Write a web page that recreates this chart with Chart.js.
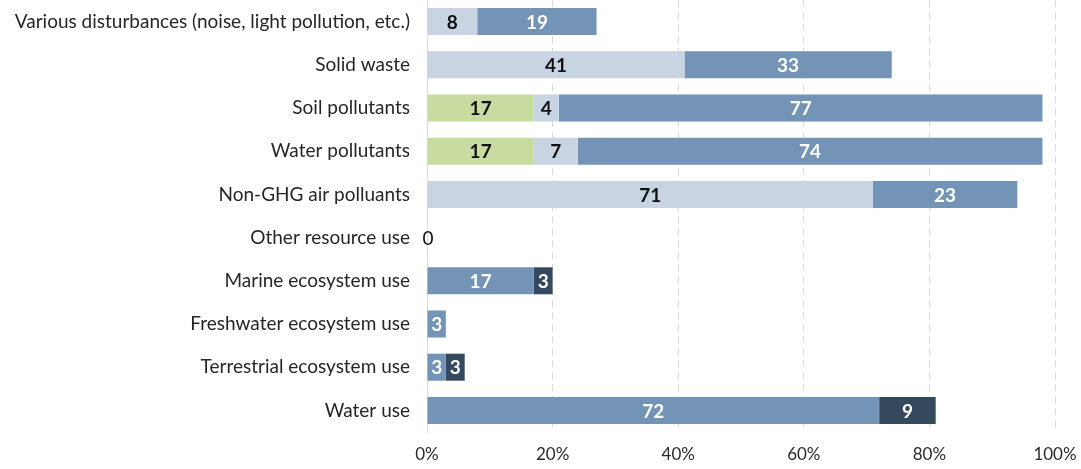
<!DOCTYPE html>
<html>
<head>
<meta charset="utf-8">
<script src="https://cdn.jsdelivr.net/npm/chart.js@4"></script>
<style>
html,body{margin:0;padding:0;background:#fff;}
#wrap{width:1081px;height:469px;position:relative;}
</style>
</head>
<body>
<div id="wrap"><canvas id="c" width="1081" height="469"></canvas></div>
<script>
const categories = [
  "Various disturbances (noise, light pollution, etc.)",
  "Solid waste",
  "Soil pollutants",
  "Water pollutants",
  "Non-GHG air polluants",
  "Other resource use",
  "Marine ecosystem use",
  "Freshwater ecosystem use",
  "Terrestrial ecosystem use",
  "Water use"
];
const seriesGreen = [null, null, 17, 17, null, null, null, null, null, null];
const seriesLight = [8, 41, 4, 7, 71, null, null, null, null, null];
const seriesMid   = [19, 33, 77, 74, 23, 0, 17, 3, 3, 72];
const seriesDark  = [null, null, null, null, null, null, 3, null, 3, 9];
const xTicks = [0, 20, 40, 60, 80, 100];

const colors = ["#c8dba0", "#c8d4e2", "#7393b7", "#34495e"];
const labelColors = ["#111111", "#111111", "#ffffff", "#ffffff"];

const labelPlugin = {
  id: 'barLabels',
  afterDatasetsDraw(chart) {
    const ctx = chart.ctx;
    ctx.save();
    ctx.font = 'bold 19px Lato';
    ctx.textAlign = 'center';
    ctx.textBaseline = 'middle';
    chart.data.datasets.forEach((ds, di) => {
      const meta = chart.getDatasetMeta(di);
      meta.data.forEach((el, i) => {
        const v = ds.data[i];
        if (v === null || v === undefined) return;
        const cx = (el.x + el.base) / 2;
        if (v === 0) {
          ctx.font = '19px Lato';
          ctx.fillStyle = '#111111';
          ctx.fillText(String(v), cx + 1, el.y + 1);
          ctx.font = 'bold 19px Lato';
        } else {
          ctx.fillStyle = labelColors[di];
          ctx.fillText(String(v), cx, el.y + 1);
        }
      });
    });
    ctx.restore();
  }
};

new Chart(document.getElementById('c'), {
  type: 'bar',
  data: {
    labels: categories,
    datasets: [
      { data: seriesGreen, backgroundColor: colors[0] },
      { data: seriesLight, backgroundColor: colors[1] },
      { data: seriesMid, backgroundColor: colors[2] },
      { data: seriesDark, backgroundColor: colors[3] }
    ].map(d => Object.assign(d, { categoryPercentage: 1, barPercentage: 0.625, borderWidth: 0 }))
  },
  options: {
    indexAxis: 'y',
    responsive: false,
    animation: false,
    devicePixelRatio: 1,
    layout: { padding: { top: 0, right: 26, bottom: 0, left: 0 } },
    plugins: { legend: { display: false }, tooltip: { enabled: false } },
    scales: {
      x: {
        stacked: true,
        min: 0, max: 100,
        afterBuildTicks(scale) { scale.ticks = xTicks.map(v => ({ value: v })); },
        afterFit(scale) { scale.height = 37; scale.paddingLeft = 0; scale.paddingRight = 0; },
        ticks: {
          padding: 12,
          color: '#2b2b2b',
          font: { family: 'Lato', size: 17 },
          callback: v => v + '%'
        },
        grid: {
          drawTicks: false,
          color: ctx => ctx.index === 0 ? 'rgba(0,0,0,0)' : '#d9d9d9',
          lineWidth: 1
        },
        border: { display: false, dash: [7, 5] }
      },
      y: {
        stacked: true,
        afterFit(scale) { scale.width = 427; scale.paddingTop = 0; scale.paddingBottom = 0; },
        ticks: {
          padding: 17,
          color: '#262626',
          font: { family: 'Lato', size: 19 }
        },
        grid: { display: false, drawTicks: false },
        border: { display: true, color: '#d9d9d9', width: 1 }
      }
    }
  },
  plugins: [labelPlugin]
});
</script>
</body>
</html>
